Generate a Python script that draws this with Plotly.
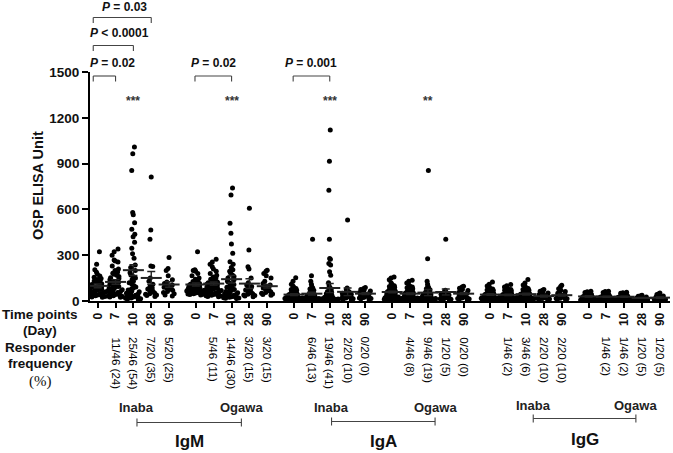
import plotly.graph_objects as go

# ---------------- data ----------------
days = ["0", "7", "10", "28", "90"]
groups = ["IgM Inaba", "IgM Ogawa", "IgA Inaba", "IgA Ogawa", "IgG Inaba", "IgG Ogawa"]

igm_inaba_d0 = [322, 241, 205, 188, 176, 163, 155, 148, 141, 137, 131, 124, 119, 113, 108, 104, 101, 97, 94, 91, 88, 86, 83, 80, 77, 75, 72, 69, 67, 64, 61, 59, 56, 53, 51, 49, 46, 44, 41, 39, 37, 34, 31, 29, 27, 24]
igm_inaba_d7 = [340, 322, 300, 268, 262, 255, 230, 210, 200, 190, 182, 175, 168, 160, 152, 148, 140, 135, 128, 122, 118, 112, 108, 102, 98, 95, 90, 86, 82, 78, 74, 70, 66, 62, 58, 55, 52, 48, 45, 42, 38, 35, 32, 30, 27, 25]
igm_inaba_d10 = [1009, 965, 855, 579, 565, 513, 470, 437, 421, 385, 345, 310, 280, 235, 220, 200, 185, 170, 160, 150, 140, 130, 120, 110, 100, 92, 85, 78, 72, 66, 60, 55, 50, 46, 42, 38, 35, 32, 29, 26, 23, 20, 18, 15, 12, 10]
igm_inaba_d28 = [812, 465, 404, 230, 226, 150, 130, 110, 95, 85, 78, 70, 64, 58, 52, 48, 44, 40, 36, 30]
igm_inaba_d90 = [285, 213, 200, 165, 140, 125, 115, 105, 100, 95, 90, 85, 80, 75, 70, 62, 55, 48, 40, 32]

igm_ogawa_d0 = [322, 205, 200, 198, 195, 180, 165, 150, 142, 135, 128, 122, 118, 114, 110, 106, 102, 99, 96, 93, 90, 88, 86, 84, 82, 80, 78, 76, 74, 72, 70, 68, 66, 64, 62, 60, 58, 56, 54, 52, 50, 48, 46, 44, 42, 40]
igm_ogawa_d7 = [274, 255, 240, 225, 210, 195, 180, 168, 158, 150, 142, 135, 130, 125, 120, 116, 112, 108, 104, 100, 97, 94, 91, 88, 85, 82, 80, 77, 74, 71, 68, 65, 62, 60, 57, 54, 51, 48, 45, 42, 40, 38, 35, 32, 30, 28]
igm_ogawa_d10 = [740, 695, 509, 443, 373, 312, 257, 240, 220, 205, 195, 185, 170, 160, 150, 140, 130, 122, 115, 108, 100, 95, 90, 85, 80, 75, 70, 66, 62, 58, 54, 50, 47, 44, 41, 38, 35, 32, 30, 28, 26, 24, 22, 20, 18, 16]
igm_ogawa_d28 = [608, 334, 224, 210, 150, 120, 105, 95, 88, 80, 72, 65, 58, 52, 48, 44, 40, 36, 32, 28]
igm_ogawa_d90 = [202, 195, 180, 165, 150, 130, 115, 105, 98, 90, 85, 78, 72, 66, 60, 55, 50, 46, 42, 38]

iga_inaba_d0 = [152, 130, 110, 98, 90, 82, 76, 70, 65, 60, 56, 52, 49, 46, 43, 40, 38, 36, 34, 32, 30, 28, 27, 26, 25, 24, 23, 22, 21, 20, 19, 18, 17, 16, 15, 14, 13, 12, 11, 10, 9, 8, 7, 6, 5, 4]
iga_inaba_d7 = [404, 165, 130, 110, 95, 85, 78, 70, 64, 58, 54, 50, 46, 43, 40, 37, 35, 33, 31, 29, 27, 25, 24, 23, 22, 21, 20, 19, 18, 17, 16, 15, 14, 13, 12, 11, 10, 9, 8, 8, 7, 6, 5, 5, 4, 3]
iga_inaba_d10 = [1120, 915, 725, 404, 279, 274, 246, 235, 191, 169, 120, 100, 85, 72, 62, 55, 48, 42, 38, 34, 30, 27, 25, 23, 21, 19, 17, 16, 15, 14, 13, 12, 11, 10, 9, 8, 7, 6, 5, 5, 4, 3, 3, 2, 2, 1]
iga_inaba_d28 = [530, 85, 75, 68, 60, 55, 50, 45, 42, 38, 35, 32, 29, 26, 23, 20, 17, 14, 11, 8]
iga_inaba_d90 = [88, 82, 76, 70, 65, 60, 55, 50, 46, 42, 38, 35, 32, 29, 26, 23, 20, 17, 14, 10]

iga_ogawa_d0 = [158, 150, 140, 120, 110, 100, 95, 90, 85, 80, 76, 72, 68, 65, 62, 59, 56, 53, 50, 48, 46, 44, 42, 40, 38, 36, 34, 32, 30, 28, 26, 24, 22, 20, 19, 18, 17, 16, 15, 14, 13, 12, 11, 10, 9, 8]
iga_ogawa_d7 = [136, 130, 118, 105, 98, 92, 86, 80, 75, 70, 66, 62, 58, 55, 52, 49, 46, 43, 41, 39, 37, 35, 33, 31, 29, 27, 25, 23, 21, 20, 19, 18, 17, 16, 15, 14, 13, 12, 11, 10, 9, 8, 7, 6, 5, 4]
iga_ogawa_d10 = [855, 276, 130, 110, 96, 88, 80, 74, 68, 63, 58, 54, 50, 47, 44, 41, 38, 36, 34, 32, 30, 28, 26, 24, 22, 21, 20, 19, 18, 17, 16, 15, 14, 13, 12, 11, 10, 9, 8, 7, 6, 5, 4, 3, 3, 2]
iga_ogawa_d28 = [404, 70, 64, 58, 52, 48, 44, 40, 36, 33, 30, 27, 24, 21, 18, 16, 14, 12, 10, 8]
iga_ogawa_d90 = [97, 92, 84, 76, 68, 62, 56, 50, 45, 40, 36, 32, 28, 25, 22, 19, 16, 13, 10, 7]

igg_inaba_d0 = [125, 110, 98, 90, 84, 78, 72, 68, 64, 60, 56, 53, 50, 47, 44, 42, 40, 38, 36, 34, 32, 30, 28, 27, 26, 25, 24, 23, 22, 21, 20, 19, 18, 17, 16, 15, 14, 13, 12, 11, 10, 9, 8, 7, 6, 5]
igg_inaba_d7 = [108, 100, 92, 85, 80, 75, 70, 66, 62, 58, 55, 52, 49, 46, 43, 41, 39, 37, 35, 33, 31, 29, 27, 26, 25, 24, 23, 22, 21, 20, 19, 18, 17, 16, 15, 14, 13, 12, 11, 10, 9, 8, 7, 6, 5, 4]
igg_inaba_d10 = [141, 118, 105, 96, 88, 82, 76, 71, 66, 62, 58, 55, 52, 49, 46, 44, 42, 40, 38, 36, 34, 32, 30, 29, 28, 27, 26, 25, 24, 23, 22, 21, 20, 19, 18, 17, 16, 15, 14, 13, 12, 11, 10, 9, 8, 7]
igg_inaba_d28 = [75, 70, 64, 58, 52, 47, 43, 39, 35, 32, 29, 26, 23, 21, 19, 17, 15, 13, 11, 9]
igg_inaba_d90 = [103, 95, 80, 70, 62, 55, 50, 45, 41, 37, 33, 30, 27, 24, 21, 18, 16, 14, 12, 10]

igg_ogawa_d0 = [64, 60, 56, 52, 49, 46, 43, 41, 39, 37, 35, 33, 31, 30, 29, 28, 27, 26, 25, 24, 23, 22, 21, 20, 19, 18, 17, 16, 15, 14, 13, 12, 11, 10, 10, 9, 9, 8, 8, 7, 7, 6, 6, 5, 5, 4]
igg_ogawa_d7 = [64, 62, 55, 50, 46, 42, 39, 36, 34, 32, 30, 29, 28, 27, 26, 25, 24, 23, 22, 21, 20, 19, 18, 17, 16, 15, 14, 13, 12, 11, 11, 10, 10, 9, 9, 8, 8, 7, 7, 6, 6, 5, 5, 4, 4, 3]
igg_ogawa_d10 = [57, 54, 50, 46, 42, 39, 36, 34, 32, 30, 29, 28, 27, 26, 25, 24, 23, 22, 21, 20, 19, 18, 17, 16, 15, 14, 13, 12, 12, 11, 11, 10, 10, 9, 9, 8, 8, 7, 7, 6, 6, 5, 5, 4, 4, 3]
igg_ogawa_d28 = [37, 34, 31, 28, 26, 24, 22, 20, 18, 17, 16, 15, 14, 13, 12, 11, 10, 9, 8, 7]
igg_ogawa_d90 = [53, 48, 42, 37, 33, 30, 27, 25, 23, 21, 19, 17, 15, 14, 13, 12, 11, 10, 9, 8]

# mean and SEM
mean_igm_inaba = [99, 125, 202, 151, 108]
mean_igm_ogawa = [108, 114, 143, 114, 97]
mean_iga_inaba = [42, 48, 85, 60, 48]
mean_iga_ogawa = [59, 48, 55, 59, 48]
mean_igg_inaba = [42, 40, 45, 32, 38]
mean_igg_ogawa = [30, 28, 28, 20, 22]
sem_igm_inaba = [12, 15, 35, 42, 18]
sem_igm_ogawa = [10, 10, 25, 32, 12]
sem_iga_inaba = [6, 9, 30, 25, 6]
sem_iga_ogawa = [6, 5, 20, 20, 6]
sem_igg_inaba = [5, 5, 6, 6, 6]
sem_igg_ogawa = [4, 4, 4, 3, 4]

responder_igm_inaba = ["", "11/46 (24)", "25/46 (54)", "7/20 (35)", "5/20 (25)"]
responder_igm_ogawa = ["", "5/46 (11)", "14/46 (30)", "3/20 (15)", "3/20 (15)"]
responder_iga_inaba = ["", "6/46 (13)", "19/46 (41)", "2/20 (10)", "0/20 (0)"]
responder_iga_ogawa = ["", "4/46 (8)", "9/46 (19)", "1/20 (5)", "0/20 (0)"]
responder_igg_inaba = ["", "1/46 (2)", "3/46 (6)", "2/20 (10)", "2/20 (10)"]
responder_igg_ogawa = ["", "1/46 (2)", "1/46 (2)", "1/20 (5)", "1/20 (5)"]

stars = [("IgM Inaba", "10", "***"), ("IgM Ogawa", "10", "***"),
         ("IgA Inaba", "10", "***"), ("IgA Ogawa", "10", "**")]
# (group, from day, to day, label, level)
comparisons = [("IgM Inaba", "0", "7", "<i>P</i> = 0.02", 0),
               ("IgM Inaba", "0", "10", "<i>P</i> < 0.0001", 1),
               ("IgM Inaba", "0", "28", "<i>P</i> = 0.03", 2),
               ("IgM Ogawa", "0", "10", "<i>P</i> = 0.02", 0),
               ("IgA Inaba", "0", "10", "<i>P</i> = 0.001", 0)]

series = [
    [igm_inaba_d0, igm_inaba_d7, igm_inaba_d10, igm_inaba_d28, igm_inaba_d90],
    [igm_ogawa_d0, igm_ogawa_d7, igm_ogawa_d10, igm_ogawa_d28, igm_ogawa_d90],
    [iga_inaba_d0, iga_inaba_d7, iga_inaba_d10, iga_inaba_d28, iga_inaba_d90],
    [iga_ogawa_d0, iga_ogawa_d7, iga_ogawa_d10, iga_ogawa_d28, iga_ogawa_d90],
    [igg_inaba_d0, igg_inaba_d7, igg_inaba_d10, igg_inaba_d28, igg_inaba_d90],
    [igg_ogawa_d0, igg_ogawa_d7, igg_ogawa_d10, igg_ogawa_d28, igg_ogawa_d90],
]
means = [mean_igm_inaba, mean_igm_ogawa, mean_iga_inaba, mean_iga_ogawa, mean_igg_inaba, mean_igg_ogawa]
sems = [sem_igm_inaba, sem_igm_ogawa, sem_iga_inaba, sem_iga_ogawa, sem_igg_inaba, sem_igg_ogawa]
responders = [responder_igm_inaba, responder_igm_ogawa, responder_iga_inaba,
              responder_iga_ogawa, responder_igg_inaba, responder_igg_ogawa]

# ---------------- layout helpers ----------------
W, H = 673, 453
L, R, T, B = 90, 670, 72, 301
PW, PH = R - L, B - T
GROUP_STEP = 5.5


def pos(g, i):
    return g * GROUP_STEP + i


def xp(px):
    return (px - L) / PW


def yp(py):
    return (B - py) / PH


SANS = "Liberation Sans, Arial, sans-serif"
fig = go.Figure()

for g, grp in enumerate(series):
    for i, vals in enumerate(grp):
        n = len(vals)
        fig.add_trace(go.Box(
            x=[pos(g, i)] * n, y=vals, boxpoints="all", jitter=1, pointpos=0,
            width=1.05 if n > 30 else 0.8,
            line=dict(width=0, color="rgba(0,0,0,0)"), fillcolor="rgba(0,0,0,0)",
            marker=dict(size=5, color="black", line=dict(width=0)),
            showlegend=False, hoverinfo="y"))

mx, my, me = [], [], []
for g in range(len(groups)):
    for i in range(len(days)):
        mx.append(pos(g, i))
        my.append(means[g][i])
        me.append(sems[g][i])
fig.add_trace(go.Scatter(
    x=mx, y=my, mode="markers", showlegend=False,
    marker=dict(symbol="line-ew", size=15, line=dict(width=2, color="#222")),
    error_y=dict(type="data", array=me, color="#222", thickness=1.4, width=4)))

tickvals = [pos(g, i) for g in range(len(groups)) for i in range(len(days))]
ticktext = [d for g in range(len(groups)) for d in days]

annotations = []
shapes = []

# responder frequency labels
for g in range(len(groups)):
    for i in range(len(days)):
        if responders[g][i]:
            annotations.append(dict(
                x=pos(g, i), xref="x", y=yp(335), yref="paper", text=responders[g][i],
                showarrow=False, textangle=90, xanchor="center", yanchor="top",
                font=dict(family=SANS, size=11.5, color="#000")))

# left-side row labels
for txt, py, fam, size, bold in [("Time points", 314, SANS, 13.5, True),
                                 ("(Day)", 330, SANS, 13.5, True),
                                 ("Responder", 347, SANS, 13.5, True),
                                 ("frequency", 363, SANS, 13.5, True),
                                 ("(%)", 381, "Liberation Serif, Times New Roman, serif", 15, False)]:
    annotations.append(dict(x=xp(40), y=yp(py), xref="paper", yref="paper",
                            text=f"<b>{txt}</b>" if bold else txt, showarrow=False,
                            xanchor="center", yanchor="middle",
                            font=dict(family=fam, size=size, color="#111")))

# y-axis title
annotations.append(dict(x=xp(38), y=yp(186), xref="paper", yref="paper",
                        text="<b>OSP ELISA Unit</b>", showarrow=False, textangle=-90,
                        xanchor="center", yanchor="middle",
                        font=dict(family=SANS, size=14.5, color="#111")))

# significance stars
for grp, d, s in stars:
    g = groups.index(grp)
    annotations.append(dict(x=pos(g, days.index(d)), xref="x", y=yp(101), yref="paper",
                            text=f"<b>{s}</b>", showarrow=False, xanchor="center",
                            yanchor="middle", font=dict(family=SANS, size=12, color="#333")))

# P-value brackets
level_y = [76, 45.5, 17.5]
text_y = [63, 33, 7]
for grp, d1, d2, lab, lev in comparisons:
    g = groups.index(grp)
    x1 = pos(g, days.index(d1)) - (0.25 if grp == "IgM Inaba" else 0.05)
    x2 = pos(g, days.index(d2))
    ya = yp(level_y[lev])
    yb = yp(level_y[lev] + 5.5)
    for (xa, ya_, xb, yb_) in [(x1, ya, x2, ya), (x1, ya, x1, yb), (x2, ya, x2, yb)]:
        shapes.append(dict(type="line", xref="x", yref="paper", x0=xa, y0=ya_, x1=xb, y1=yb_,
                           line=dict(color="#444", width=1.1)))
    shift = {0: 0.45, 1: 0.35, 2: 0.1}[lev] if grp == "IgM Inaba" else 0.0
    annotations.append(dict(x=(x1 + x2) / 2 + shift, xref="x", y=yp(text_y[lev]), yref="paper",
                            text=f"<b>{lab}</b>", showarrow=False, xanchor="center",
                            yanchor="middle", font=dict(family=SANS, size=12, color="#111")))

# bottom group labels
iso_labels = [("IgM", 0, 407, 422.5, 441.5, 2.2, 8.05),
              ("IgA", 2, 407, 421.5, 441.5, 2.1, 7.9),
              ("IgG", 4, 405, 418.5, 439.5, 2.4, 8.15)]
for name, g, ty, ly, iy, a, b in iso_labels:
    xa, xb = pos(g, 0) + a, pos(g, 0) + b
    for txt, xx in [("Inaba", xa), ("Ogawa", xb)]:
        annotations.append(dict(x=xx, xref="x", y=yp(ty), yref="paper", text=f"<b>{txt}</b>",
                                showarrow=False, xanchor="center", yanchor="middle",
                                font=dict(family=SANS, size=13, color="#222")))
    shapes.append(dict(type="line", xref="x", yref="paper", x0=xa, x1=xb, y0=yp(ly), y1=yp(ly),
                       line=dict(color="#444", width=1.1)))
    for xx in (xa, xb):
        shapes.append(dict(type="line", xref="x", yref="paper", x0=xx, x1=xx,
                           y0=yp(ly - 4), y1=yp(ly + 4), line=dict(color="#444", width=1.1)))
    annotations.append(dict(x=(xa + xb) / 2, xref="x", y=yp(iy), yref="paper", text=f"<b>{name}</b>",
                            showarrow=False, xanchor="center", yanchor="middle",
                            font=dict(family=SANS, size=17, color="#111")))

fig.update_layout(
    width=W, height=H, margin=dict(l=L, r=W - R, t=T, b=H - B, pad=0),
    paper_bgcolor="white", plot_bgcolor="white", boxmode="overlay",
    showlegend=False, annotations=annotations, shapes=shapes,
    xaxis=dict(range=[(L - 97.7) / 17.85, (R - 97.7) / 17.85], tickmode="array",
               tickvals=tickvals, ticktext=ticktext, tickangle=-90,
               showline=True, linecolor="black", linewidth=1.8, ticks="outside",
               ticklen=5, tickwidth=1.5, tickcolor="black", showgrid=False, zeroline=False,
               tickfont=dict(family=SANS, size=12, color="#111", weight="bold")),
    yaxis=dict(range=[0, 1500], tickmode="array", tickvals=[0, 300, 600, 900, 1200, 1500],
               showline=True, linecolor="black", linewidth=1.8, ticks="outside",
               ticklen=6, tickwidth=1.5, tickcolor="black", showgrid=False, zeroline=False,
               tickfont=dict(family=SANS, size=13.5, color="#111", weight="bold")),
)

fig.write_html("out.html", config={"displayModeBar": False},
               post_script="document.body.style.margin='0';document.body.style.overflow='hidden';")
